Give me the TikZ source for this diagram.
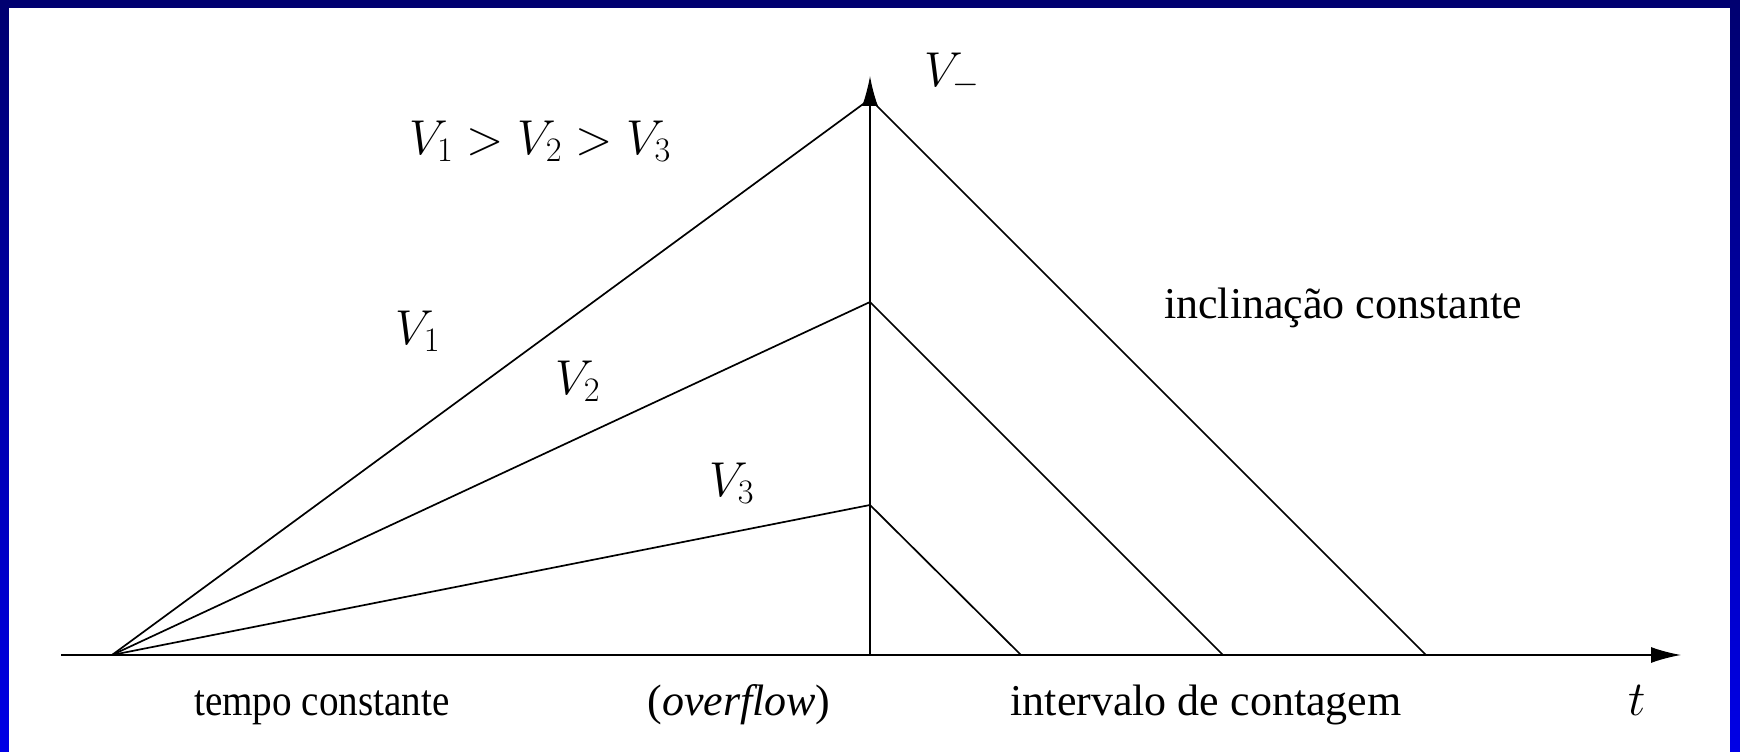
\RequirePackage{fix-cm}
\documentclass[tikz,border=0pt]{standalone}
\usepackage{fontspec}
\setmainfont{Liberation Serif}
\usetikzlibrary{arrows.meta}
\definecolor{frametop}{RGB}{0,0,112}
\definecolor{framebot}{RGB}{0,0,230}
\begin{document}
\begin{tikzpicture}[x=1pt, y=1pt, >={Latex[length=30pt,width=16pt]}, line width=1.7pt,
    font=\fontsize{44}{52}\selectfont,
    lbl/.style={inner sep=0pt},
    mth/.style={inner sep=0pt, font=\fontsize{49}{56}\selectfont}]
  % frame
  \shade[top color=frametop, bottom color=framebot] (0,0) rectangle (1740,752);
  \fill[white] (9,0) rectangle (1730,744);
  % axes
  \coordinate (o) at (112,97);
  \coordinate (xs) at (61,97);
  \coordinate (xe) at (1681,97);
  \coordinate (yb) at (870,97);
  \coordinate (ye) at (870,676);
  \draw[->] (xs) -- (xe);
  \draw[->] (yb) -- (ye);
  % ramps
  \coordinate (p1) at (870,653);
  \coordinate (p2) at (870,450);
  \coordinate (p3) at (870,247);
  \coordinate (e1) at (1426,97);
  \coordinate (e2) at (1223,97);
  \coordinate (e3) at (1021,97);
  \draw (o) -- (p1) -- (e1);
  \draw (o) -- (p2) -- (e2);
  \draw (o) -- (p3) -- (e3);
  % labels
  \node[mth] (vm) at (952,677) {$V_-$};
  \node[mth] (ord) at (540,611) {$V_1>V_2>V_3$};
  \node[mth] (v1) at (418,421) {$V_1$};
  \node[mth] (v2) at (578,371) {$V_2$};
  \node[mth] (v3) at (732,269) {$V_3$};
  \node[lbl] (incl) at (1343,444) {inclinação constante};
  \node[lbl, anchor=base] (tc) at (322,36) {\scalebox{0.89}[1]{tempo constante}};
  \node[lbl, anchor=base] (ov) at (739,36) {(\textit{overflow})};
  \node[lbl, anchor=base] (ic) at (1206,36) {intervalo de contagem};
  \node[mth, anchor=base] (t) at (1637,36) {$t$};
\end{tikzpicture}
\end{document}
